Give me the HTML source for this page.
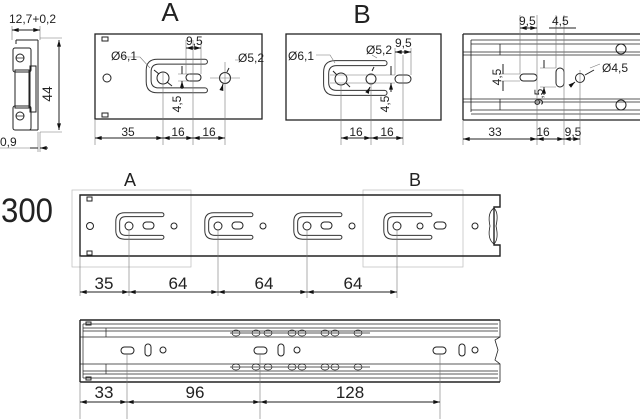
<!DOCTYPE html>
<html><head><meta charset="utf-8"><style>
html,body{margin:0;padding:0;background:#fff;}
svg{display:block;}
text{font-family:"Liberation Sans","DejaVu Sans",sans-serif;fill:#222;}
</style></head><body>
<svg width="640" height="419" viewBox="0 0 640 419" xmlns="http://www.w3.org/2000/svg">
<defs>
<marker id="ar" viewBox="0 0 10 6" refX="10" refY="3" markerWidth="8" markerHeight="4" orient="auto-start-reverse" markerUnits="userSpaceOnUse"><path d="M0,0 L10,3 L0,6z" fill="#111"/></marker>
<g id="uA" fill="none" stroke="#333" stroke-width="1">
<path vector-effect="non-scaling-stroke" d="M30,-12 H-4 Q-12,-12 -12,-4 V4 Q-12,12 -4,12 H30" />
<path vector-effect="non-scaling-stroke" d="M30,-8.5 H-3 Q-8.5,-8.5 -8.5,-3 V3 Q-8.5,8.5 -3,8.5 H30"/>
<path vector-effect="non-scaling-stroke" d="M30,-12 A1.75,1.75 0 0 1 30,-8.5 M30,8.5 A1.75,1.75 0 0 1 30,12"/>
</g>
</defs>
<g fill="none" stroke="#222" stroke-width="1">
<!-- side profile -->
<path d="M16,40 H38 M16,40 V44 M38,40 V130 M16,130 H38"/>
<rect x="13" y="48" width="18" height="24" rx="2"/>
<rect x="13" y="106" width="18" height="24" rx="2"/>
<rect x="15" y="70" width="14" height="38" />
<rect x="30" y="66" width="6" height="46"/>
<circle cx="20" cy="58" r="4"/><circle cx="20" cy="116" r="4"/>
<path d="M16,58 H24 M16,116 H24" stroke-width=".7"/>
<g stroke="#777" stroke-width=".6">
<path d="M12,26 V40 M40,26 V40 M40,38 H62 M40,132 H62 M40,132 V152 M38,132 V152 M0,148 H38"/>
</g>
<path d="M12,30 H40" marker-start="url(#ar)" marker-end="url(#ar)"/>
<path d="M59,40 V130" marker-start="url(#ar)" marker-end="url(#ar)"/>
<path d="M30,148 H38 M48,148 H40" marker-end="url(#ar)"/>

<!-- View A -->
<rect x="95" y="34" width="167" height="85" stroke-width="1.3"/>
<rect x="102" y="37" width="6" height="4"/><rect x="102" y="113" width="6" height="4"/>
<circle cx="107" cy="78" r="4"/>
<use href="#uA" transform="translate(163,76) scale(1.4)"/>
<circle cx="163" cy="78" r="6"/>
<rect x="186" y="74" width="15" height="7" rx="3.5"/>
<circle cx="225" cy="78" r="5.5"/>
<g stroke="#777" stroke-width=".6">
<path d="M95,119 V145 M163,72 V145 M193,40 V145 M225,68 V145 M186,40 V74 M201,40 V74 M178,74 H190 M178,81 H190 M210,78 H240 M225,62 V92 M120,57 H140 L150,68 M235,60 H240"/>
</g>
<path d="M95,138 H163" marker-start="url(#ar)" marker-end="url(#ar)"/>
<path d="M163,138 H193" marker-start="url(#ar)" marker-end="url(#ar)"/>
<path d="M193,138 H225" marker-start="url(#ar)" marker-end="url(#ar)"/>
<path d="M186,48 H201" marker-start="url(#ar)" marker-end="url(#ar)"/>
<path d="M182,66 V74 M182,89 V81" marker-end="url(#ar)"/>
<path d="M154,70 L159,74 M172,86 L167,82 M229,68 L227,72 M222,88 L223,84" marker-end="url(#ar)"/>

<!-- View B -->
<rect x="286" y="34" width="155" height="86" stroke-width="1.3"/>
<use href="#uA" transform="translate(341,78) scale(1.45)"/>
<circle cx="341" cy="79" r="6"/>
<circle cx="371" cy="79" r="5"/>
<rect x="395" y="75" width="16" height="8" rx="4"/>
<g stroke="#777" stroke-width=".6">
<path d="M341,85 V145 M371,85 V145 M403,55 V145 M395,48 V75 M411,48 V75 M330,75 H395 M330,83 H395 M316,55 H330 L335,63 M372,55 L377,58"/>
</g>
<path d="M341,138 H371" marker-start="url(#ar)" marker-end="url(#ar)"/>
<path d="M371,138 H403" marker-start="url(#ar)" marker-end="url(#ar)"/>
<path d="M395,52 H411" marker-start="url(#ar)" marker-end="url(#ar)"/>
<path d="M391,66 V75 M391,92 V83" marker-end="url(#ar)"/>
<path d="M333,71 L337,75 M350,87 L346,83 M374,67 L372,71 M368,91 L370,87" marker-end="url(#ar)"/>

<!-- Right view -->
<path d="M463,34 H640 M463,120 H640 M463,34 V120" stroke-width="1.3"/>
<path d="M471,40 H640 M471,44 H640 M471,40 V112 M471,110 H640 M471,114 H640 M463,55 H640 M463,99 H640 M463,52 H640 M463,102 H640 M500,44 V55 M500,99 V110" stroke-width=".8"/>
<circle cx="621" cy="49" r="5"/><circle cx="621" cy="105" r="5"/>
<rect x="520" y="74" width="17" height="7" rx="3.5"/>
<rect x="556" y="68" width="8" height="19" rx="4"/>
<circle cx="580" cy="78" r="4.5"/>
<g stroke="#777" stroke-width=".6">
<path d="M463,120 V145 M520,15 V74 M537,15 V145 M556,15 V68 M564,15 V145 M580,70 V145 M500,74 H520 M500,81 H520 M540,68 H556 M540,87 H556 M590,68 L600,64"/>
</g>
<path d="M463,139 H537" marker-start="url(#ar)" marker-end="url(#ar)"/>
<path d="M537,139 H564" marker-start="url(#ar)" marker-end="url(#ar)"/>
<path d="M564,139 H580" marker-start="url(#ar)" marker-end="url(#ar)"/>
<path d="M520,28 H537" marker-start="url(#ar)" marker-end="url(#ar)"/>
<path d="M549,28 H564 M576,28 H564" />
<path d="M503,64 V74 M503,91 V81 M544,60 V68 M544,95 V87" marker-end="url(#ar)"/>
<path d="M594,70 L585,75 M570,86 L575,82" marker-end="url(#ar)"/>

<!-- Middle rail -->
<rect x="72" y="190" width="119" height="77" stroke="#bbb" stroke-width=".7"/>
<rect x="363" y="190" width="100" height="77" stroke="#bbb" stroke-width=".7"/>
<path d="M80,195 H500 V207 H494 V245 H500 V256 H80 Z" stroke-width="1.4"/>
<path d="M494,208 Q487,213 490,226 Q487,239 494,244 M494,208 Q499,213 496,226 Q499,239 494,244" stroke-width=".8"/>
<rect x="87" y="197" width="5" height="4"/><rect x="87" y="251" width="5" height="4"/>
<circle cx="90" cy="226" r="3.5"/>
<use href="#uA" transform="translate(129,226) scale(1.1)"/><circle cx="129" cy="226" r="4"/><rect x="143" y="222" width="11" height="7" rx="3.5"/><circle cx="174" cy="226" r="3"/>
<use href="#uA" transform="translate(218,226) scale(1.1)"/><circle cx="218" cy="226" r="4"/><rect x="232" y="222" width="11" height="7" rx="3.5"/><circle cx="263" cy="226" r="3"/>
<use href="#uA" transform="translate(307,226) scale(1.1)"/><circle cx="307" cy="226" r="4"/><rect x="321" y="222" width="11" height="7" rx="3.5"/><circle cx="352" cy="226" r="3"/>
<use href="#uA" transform="translate(397,226) scale(1.1)"/><circle cx="397" cy="226" r="4"/><circle cx="420" cy="226" r="3"/><rect x="434" y="222" width="12" height="7" rx="3.5"/>
<circle cx="475" cy="226" r="3"/>
<g stroke="#777" stroke-width=".6"><path d="M80,256 V296 M129,230 V296 M218,230 V296 M307,230 V298 M397,230 V298"/></g>
<path d="M80,292 H129" marker-start="url(#ar)" marker-end="url(#ar)"/>
<path d="M129,292 H218" marker-start="url(#ar)" marker-end="url(#ar)"/>
<path d="M218,292 H307" marker-start="url(#ar)" marker-end="url(#ar)"/>
<path d="M307,292 H397" marker-start="url(#ar)" marker-end="url(#ar)"/>

<!-- Bottom rail -->
<path d="M80,320 H500 M80,382 H500 M80,320 V382" stroke-width="1.4"/>
<path d="M500,320 V337 L495,340 L498,350 L495,360 L500,364 V382" stroke-width=".8"/>
<path d="M83,324 H498 M83,328 H498 M83,331 H498 M80,337 H500 M80,364 H500 M83,371 H498 M83,374 H498 M83,378 H498 M83,324 V378 M106,328 V337 M106,364 V374" stroke-width=".7"/>
<rect x="86" y="322" width="5" height="3"/><rect x="86" y="377" width="5" height="3"/>
<g stroke-width=".7">
<path d="M230,333 H370 M230,367 H370"/>
<g id="bl"><ellipse cx="236" cy="333" rx="4" ry="3"/><ellipse cx="256" cy="333" rx="4" ry="3"/><ellipse cx="268" cy="333" rx="4" ry="3"/><ellipse cx="292" cy="333" rx="4" ry="3"/><ellipse cx="302" cy="333" rx="4" ry="3"/><ellipse cx="325" cy="333" rx="4" ry="3"/><ellipse cx="335" cy="333" rx="4" ry="3"/><ellipse cx="358" cy="333" rx="4" ry="3"/></g>
<use href="#bl" y="34"/>
</g>
<rect x="121" y="347" width="13" height="7" rx="3.5"/><rect x="145" y="344" width="6" height="12" rx="3"/><circle cx="163" cy="350" r="3"/>
<rect x="254" y="347" width="13" height="7" rx="3.5"/><rect x="278" y="344" width="6" height="12" rx="3"/><circle cx="297" cy="350" r="3"/>
<rect x="433" y="347" width="13" height="7" rx="3.5"/><rect x="459" y="344" width="6" height="12" rx="3"/><circle cx="475" cy="350" r="3"/>
<g stroke="#777" stroke-width=".6"><path d="M80,382 V419 M127,354 V419 M260,354 V419 M440,354 V419"/></g>
<path d="M80,402 H127" marker-start="url(#ar)" marker-end="url(#ar)"/>
<path d="M127,402 H260" marker-start="url(#ar)" marker-end="url(#ar)"/>
<path d="M260,402 H440" marker-start="url(#ar)" marker-end="url(#ar)"/>
</g>

<g font-size="12">
<text x="9" y="23">12,7+0,2</text>
<text x="0" y="146">0,9</text>
<text x="0" y="0" font-size="14" transform="translate(52,94) rotate(-90)" text-anchor="middle">44</text>
<text x="170" y="21" font-size="26" text-anchor="middle">A</text>
<text x="111" y="60">Ø6,1</text>
<text x="238" y="62">Ø5,2</text>
<text x="186" y="45">9,5</text>
<text transform="translate(181,104) rotate(-90)" text-anchor="middle">4,5</text>
<text x="128" y="136" text-anchor="middle">35</text>
<text x="178" y="136" text-anchor="middle">16</text>
<text x="209" y="136" text-anchor="middle">16</text>
<text x="362" y="23" font-size="26" text-anchor="middle">B</text>
<text x="288" y="60">Ø6,1</text>
<text x="366" y="54">Ø5,2</text>
<text x="395" y="47">9,5</text>
<text transform="translate(389,104) rotate(-90)" text-anchor="middle">4,5</text>
<text x="356" y="136" text-anchor="middle">16</text>
<text x="387" y="136" text-anchor="middle">16</text>
<text x="519" y="25">9,5</text>
<text x="552" y="25">4,5</text>
<text x="602" y="72">Ø4,5</text>
<text transform="translate(501,77) rotate(-90)" text-anchor="middle">4,5</text>
<text transform="translate(543,97) rotate(-90)" text-anchor="middle">9,5</text>
<text x="495" y="136" text-anchor="middle">33</text>
<text x="543" y="136" text-anchor="middle">16</text>
<text x="573" y="136" text-anchor="middle">9,5</text>
</g>
<text x="1" y="222" font-size="34" textLength="52" lengthAdjust="spacingAndGlyphs">300</text>
<g font-size="17" text-anchor="middle">
<text x="130" y="186" font-size="18">A</text>
<text x="415" y="186" font-size="18">B</text>
<text x="104" y="289">35</text>
<text x="178" y="289">64</text>
<text x="264" y="289">64</text>
<text x="353" y="289">64</text>
<text x="104" y="398">33</text>
<text x="195" y="398">96</text>
<text x="350" y="398">128</text>
</g>
</svg>
</body></html>
